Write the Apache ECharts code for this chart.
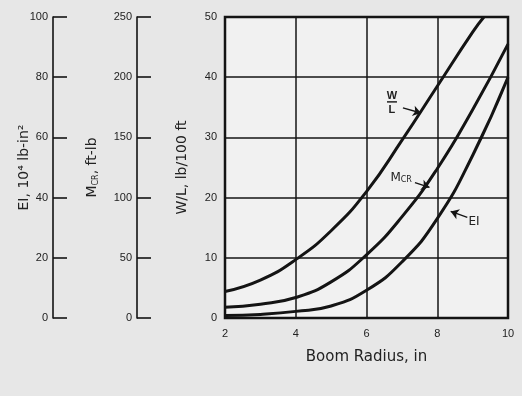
<!DOCTYPE html>
<html>
<head>
<meta charset="utf-8">
<script src="https://cdn.jsdelivr.net/npm/echarts@6/dist/echarts.min.js"></script>
<style>
html,body{margin:0;padding:0;background:#e7e7e7;}
#c{width:522px;height:396px;}
</style>
</head>
<body>
<div id="c"></div>
<script>
// ---- data ----
const radiusTicks = [2, 4, 6, 8, 10];
const radius = [2, 3, 4, 5, 6, 7, 8, 9, 10];
const wlRadius = [2, 3, 4, 5, 6, 7, 8, 9, 9.32];
const wlValues = [4.4, 6.3, 9.7, 14.5, 21, 29.5, 38.5, 47.5, 50];       // lb/100 ft
const mcrValues = [9, 11.5, 17, 30, 52.5, 84, 124, 173, 227.5];         // ft-lb
const eiValues = [0.8, 1.2, 2.2, 4.0, 9.2, 18.6, 33, 54, 80];          // 10^4 lb-in^2
const wlTicks = [0, 10, 20, 30, 40, 50];
const mcrTicks = [0, 50, 100, 150, 200, 250];
const eiTicks = [0, 20, 40, 60, 80, 100];

// annotation anchors (data coordinates on the W/L scale)
const wlLabelAt = [6.72, 35.9];
const mcrLabelAt = [6.98, 23.3];
const eiLabelAt = [9.04, 15.9];
const wlArrow = [[7.03, 34.9], [7.54, 34.05]];
const mcrArrow = [[7.37, 22.5], [7.78, 21.7]];
const eiArrow = [[8.85, 16.7], [8.38, 17.7]];

const pair = (xs, ys) => xs.map((x, i) => [x, ys[i]]);

const FONT = 'Liberation Sans, Arial, sans-serif';
const NFONT = 'DejaVu Sans, sans-serif';
const TXT = '#222222';
const INK = '#141414';

const chart = echarts.init(document.getElementById('c'), null, {renderer: 'canvas'});

const sideAxis = (grid, ticks, name, gap, rich) => ({
  gridIndex: grid, type: 'value', min: ticks[0], max: ticks[ticks.length - 1],
  interval: ticks[1] - ticks[0], position: 'left',
  axisLine: {show: true, lineStyle: {color: INK, width: 1.6}},
  axisTick: {show: true, inside: true, length: 14, lineStyle: {color: INK, width: 1.6}},
  splitLine: {show: false},
  axisLabel: {color: TXT, fontFamily: FONT, fontSize: 11, margin: 5},
  name: name, nameLocation: 'middle', nameGap: gap, nameRotate: 90, nameMoveOverlap: false,
  nameTextStyle: {color: TXT, fontFamily: NFONT, fontSize: 14, rich: rich || {}}
});

const subRich = {
  m: {color: TXT, fontFamily: NFONT, fontSize: 14},
  s: {color: TXT, fontFamily: NFONT, fontSize: 8, padding: [7, 0, 0, 0]}
};

const option = {
  backgroundColor: '#e7e7e7',
  animation: false,
  grid: [
    {left: 225, top: 17, width: 283, height: 301, show: true, backgroundColor: '#f1f1f1',
     borderColor: INK, borderWidth: 2.5},
    {left: 53, top: 17, width: 1, height: 301},
    {left: 137, top: 17, width: 1, height: 301}
  ],
  xAxis: [
    {gridIndex: 0, type: 'value', min: radiusTicks[0], max: radiusTicks[radiusTicks.length - 1],
     interval: radiusTicks[1] - radiusTicks[0],
     axisLine: {show: false}, axisTick: {show: false},
     splitLine: {show: true, lineStyle: {color: INK, width: 1.5}},
     axisLabel: {color: TXT, fontFamily: FONT, fontSize: 11, margin: 10},
     name: 'Boom Radius, in', nameLocation: 'middle', nameGap: 32, nameMoveOverlap: false,
     nameTextStyle: {color: TXT, fontFamily: NFONT, fontSize: 15}},
    {gridIndex: 1, type: 'value', show: false, min: 0, max: 1},
    {gridIndex: 2, type: 'value', show: false, min: 0, max: 1}
  ],
  yAxis: [
    {gridIndex: 0, type: 'value', min: wlTicks[0], max: wlTicks[wlTicks.length - 1],
     interval: wlTicks[1] - wlTicks[0],
     axisLine: {show: false}, axisTick: {show: false},
     splitLine: {show: true, lineStyle: {color: INK, width: 1.5}},
     axisLabel: {color: TXT, fontFamily: FONT, fontSize: 11, margin: 8},
     name: 'W/L, lb/100 ft', nameLocation: 'middle', nameGap: 36, nameRotate: 90, nameMoveOverlap: false,
     nameTextStyle: {color: TXT, fontFamily: NFONT, fontSize: 14}},
    sideAxis(1, eiTicks, 'EI, 10\u2074 lb-in\u00B2', 22),
    sideAxis(2, mcrTicks, '{m|M}{s|CR}{m|, ft-lb}', 37, subRich),
    {gridIndex: 0, type: 'value', show: false, min: mcrTicks[0], max: mcrTicks[mcrTicks.length - 1]},
    {gridIndex: 0, type: 'value', show: false, min: eiTicks[0], max: eiTicks[eiTicks.length - 1]}
  ],
  series: [
    {name: 'W/L', type: 'line', xAxisIndex: 0, yAxisIndex: 0, data: pair(wlRadius, wlValues),
     smooth: 0.5, showSymbol: false, clip: true, lineStyle: {color: INK, width: 3},
     markLine: {silent: true, symbol: ['none', 'arrow'], symbolSize: 8,
       lineStyle: {color: INK, width: 1.4, type: 'solid'}, label: {show: false},
       data: [
         [{coord: wlArrow[0]}, {coord: wlArrow[1]}],
         [{coord: mcrArrow[0]}, {coord: mcrArrow[1]}],
         [{coord: eiArrow[0]}, {coord: eiArrow[1]}]
       ]}},
    {name: 'MCR', type: 'line', xAxisIndex: 0, yAxisIndex: 3, data: pair(radius, mcrValues),
     smooth: 0.5, showSymbol: false, clip: true, lineStyle: {color: INK, width: 3}},
    {name: 'EI', type: 'line', xAxisIndex: 0, yAxisIndex: 4, data: pair(radius, eiValues),
     smooth: 0.5, showSymbol: false, clip: true, lineStyle: {color: INK, width: 3}}
  ]
};
chart.setOption(option);

const px = (p) => chart.convertToPixel({xAxisIndex: 0, yAxisIndex: 0}, p);
const w = px(wlLabelAt), m = px(mcrLabelAt), e = px(eiLabelAt);
const ts = {fill: TXT, font: '12px ' + NFONT, align: 'center', verticalAlign: 'middle'};
chart.setOption({
  graphic: [
    {type: 'text', x: w[0], y: w[1] - 6, style: Object.assign({}, ts, {text: 'W', font: 'bold 11px ' + FONT})},
    {type: 'line', shape: {x1: w[0] - 5, y1: w[1], x2: w[0] + 5, y2: w[1]}, style: {stroke: TXT, lineWidth: 1.5}},
    {type: 'text', x: w[0], y: w[1] + 8, style: Object.assign({}, ts, {text: 'L', font: 'bold 11px ' + FONT})},
    {type: 'text', x: m[0], y: m[1], style: {
      text: '{m|M}{s|CR}', align: 'center', verticalAlign: 'middle',
      rich: {m: {fill: TXT, fontSize: 12, fontFamily: NFONT}, s: {fill: TXT, fontSize: 8, fontFamily: NFONT, padding: [5, 0, 0, 0]}}}},
    {type: 'text', x: e[0], y: e[1], style: Object.assign({}, ts, {text: 'EI'})}
  ]
});
</script>
</body>
</html>
